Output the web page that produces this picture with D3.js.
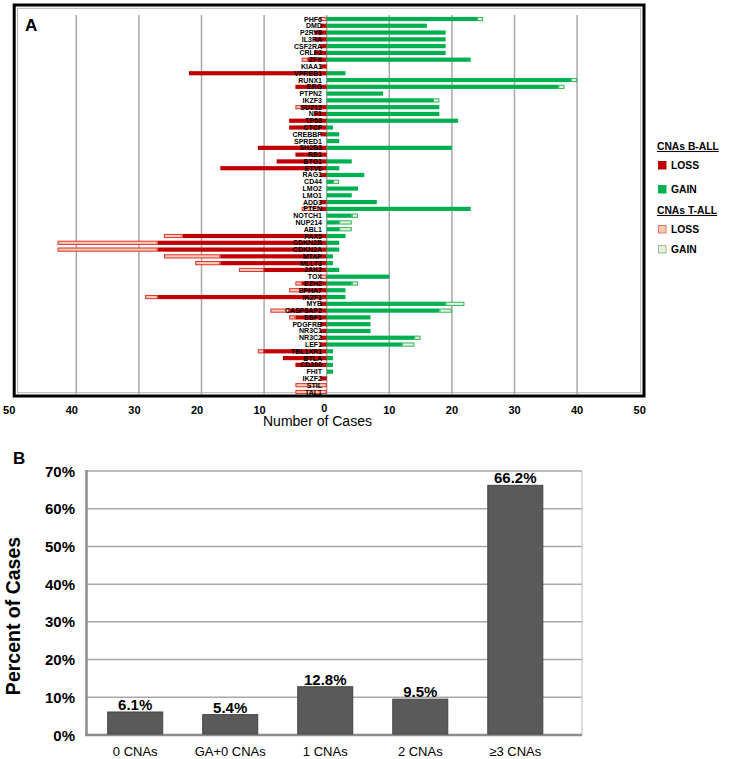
<!DOCTYPE html>
<html><head><meta charset="utf-8">
<script src="https://cdn.jsdelivr.net/npm/d3@7"></script>
<style>body{margin:0;background:#fff} svg{display:block} text{font-family:Arial,"Liberation Sans",sans-serif}</style>
</head><body><svg id="c" width="731" height="759"></svg>
<script>
// ---------- Panel A data ----------
const genes = ["PHF6","DMD","P2RY8","IL3RA","CSF2RA","CRLF2","ZFX","KIAA1","VPREB1","RUNX1","ERG","PTPN2","IKZF3","SUZ12","NF1","TP53","CTCF","CREBBP","SPRED1","SH2B3","RB1","BTG1","ETV6","RAG1","CD44","LMO2","LMO1","ADD3","PTEN","NOTCH1","NUP214","ABL1","PAX5","CDKN2B","CDKN2A","MTAP","MLLT3","JAK2","TOX","EZH2","EPHA7","IKZF1","MYB","CASP8AP2","EBF1","PDGFRB","NR3C1","NR3C2","LEF1","TBL1XR1","BTLA","CD200","FHIT","IKZF2","STIL","TAL1"];
const lossB = [0,1,2,2,1,2,3,1,22,0,5,0,0,4,2,6,6,1,0,11,5,8,17,1,0,0,0,1,1,0,0,0,23,27,27,17,17,10,0,4,4,27,1,6,5,1,1,1,1,10,7,5,0,1,0,0];
const lossT = [1,0,0,0,0,0,1,0,0,0,0,0,0,1,0,0,0,0,0,0,0,0,0,0,0,0,0,0,3,0,0,0,3,16,16,9,4,4,1,1,2,2,0,3,1,0,0,0,0,1,0,0,0,0,5,5];
const gainB = [24,16,19,19,19,19,23,0,3,39,37,9,17,18,18,21,1,2,2,20,0,4,2,6,1,5,4,8,23,4,2,2,3,2,2,1,1,2,10,4,3,3,19,18,7,7,7,14,12,1,1,1,1,0,0,0];
const gainT = [1,0,0,0,0,0,0,0,0,1,1,0,1,0,0,0,0,0,0,0,0,0,0,0,1,0,0,0,0,1,2,2,0,0,0,0,0,0,0,1,0,0,3,2,0,0,0,1,2,0,0,0,0,0,0,0];
const xTicks = [-50,-40,-30,-20,-10,0,10,20,30,40,50];
const gridVals = [-40,-30,-20,-10,0,10,20,30,40];

// ---------- Panel B data ----------
const cnaCats = ["0 CNAs","GA+0 CNAs","1 CNAs","2 CNAs","\u22653 CNAs"];
const cnaPct = [6.1,5.4,12.8,9.5,66.2];
const pctTicks = [0,10,20,30,40,50,60,70];

const C = {lossB:"#C00000", gainB:"#00B050", lossTf:"#F8CBAD", lossTs:"#D83030", gainTf:"#E8F3E0", gainTs:"#2DB35A"};

const svg = d3.select("#c");

// ===== Panel A =====
const x = d3.scaleLinear().domain([-50,50]).range([13.7,639.7]);
const y = d3.scalePoint().domain(genes).range([19,392]);
const bh = 4.2;

const gA = svg.append("g");
gA.append("rect").attr("x",14.2).attr("y",5).attr("width",629.8).attr("height",391)
  .attr("fill","none").attr("stroke","#000").attr("stroke-width",3);
gA.append("rect").attr("x",17.5).attr("y",8.3).attr("width",623.2).attr("height",384.4)
  .attr("fill","none").attr("stroke","#b5b5b5").attr("stroke-width",1);
gA.selectAll("line.grid").data(gridVals).join("line").attr("class","grid")
  .attr("x1",d=>x(d)).attr("x2",d=>x(d)).attr("y1",15).attr("y2",394)
  .attr("stroke","#a8a8a8").attr("stroke-width",1.5);

const rows = genes.map((g,i)=>({g, lb:lossB[i], lt:lossT[i], gb:gainB[i], gt:gainT[i]}));
gA.selectAll("rect.lb").data(rows.filter(r=>r.lb>0)).join("rect").attr("class","lb")
  .attr("x",d=>x(-d.lb)).attr("width",d=>x(0)-x(-d.lb)).attr("y",d=>y(d.g)-bh/2).attr("height",bh)
  .attr("fill",C.lossB);
gA.selectAll("rect.lt").data(rows.filter(r=>r.lt>0)).join("rect").attr("class","lt")
  .attr("x",d=>x(-(d.lb+d.lt))+0.5).attr("width",d=>x(-d.lb)-x(-(d.lb+d.lt))-1).attr("y",d=>y(d.g)-bh/2+0.5).attr("height",bh-1)
  .attr("fill",C.lossTf).attr("stroke",C.lossTs).attr("stroke-width",1);
gA.selectAll("rect.gb").data(rows.filter(r=>r.gb>0)).join("rect").attr("class","gb")
  .attr("x",x(0)).attr("width",d=>x(d.gb)-x(0)).attr("y",d=>y(d.g)-bh/2).attr("height",bh)
  .attr("fill",C.gainB);
gA.selectAll("rect.gt").data(rows.filter(r=>r.gt>0)).join("rect").attr("class","gt")
  .attr("x",d=>x(d.gb)+0.5).attr("width",d=>x(d.gb+d.gt)-x(d.gb)-1).attr("y",d=>y(d.g)-bh/2+0.5).attr("height",bh-1)
  .attr("fill",C.gainTf).attr("stroke",C.gainTs).attr("stroke-width",1);
gA.selectAll("text.gene").data(genes).join("text").attr("class","gene")
  .attr("x",322).attr("y",d=>y(d)+2.5).attr("text-anchor","end")
  .attr("font-size",7).attr("font-weight","bold").attr("fill","#000").text(d=>d);
gA.selectAll("text.xt").data(xTicks).join("text").attr("class","xt")
  .attr("x",d=>d<0?x(d)-4.5:(d===0?x(d)-2.5:x(d)))
  .attr("y",d=>d===0?412:414).attr("text-anchor","middle")
  .attr("font-size",11).attr("font-weight","bold").text(d=>Math.abs(d));
gA.append("text").attr("x",263).attr("y",426).attr("font-size",14).text("Number of Cases");
gA.append("text").attr("x",25).attr("y",31).attr("font-size",17).attr("font-weight","bold").text("A");

// legend
const lg = svg.append("g");
const lgItems = [
  {t:"CNAs B-ALL", head:true, y:150},
  {t:"LOSS", y:169, f:C.lossB, s:C.lossB},
  {t:"GAIN", y:193, f:C.gainB, s:C.gainB},
  {t:"CNAs T-ALL", head:true, y:214},
  {t:"LOSS", y:233, f:C.lossTf, s:"#E07070"},
  {t:"GAIN", y:253, f:"#E2EFDA", s:"#9DBF8A"}
];
lgItems.forEach(it=>{
  if(it.head){
    lg.append("text").attr("x",657).attr("y",it.y).attr("font-size",10.3).attr("font-weight","bold")
      .attr("text-decoration","underline").text(it.t);
  } else {
    lg.append("rect").attr("x",658.5).attr("y",it.y-7.5).attr("width",7.5).attr("height",7.5)
      .attr("fill",it.f).attr("stroke",it.s).attr("stroke-width",1);
    lg.append("text").attr("x",671).attr("y",it.y).attr("font-size",10.3).attr("font-weight","bold").text(it.t);
  }
});

// ===== Panel B =====
const gB = svg.append("g");
const xb = d3.scaleBand().domain(cnaCats).range([86.5,564]).paddingInner(0.421).paddingOuter(0.223);
const yb = d3.scaleLinear().domain([0,70]).range([735,471]);
gB.selectAll("line.bg").data(pctTicks.filter(d=>d>0)).join("line").attr("class","bg")
  .attr("x1",86.5).attr("x2",582).attr("y1",d=>yb(d)).attr("y2",d=>yb(d))
  .attr("stroke","#a8a8a8").attr("stroke-width",1.5);
gB.append("line").attr("x1",582).attr("x2",582).attr("y1",yb(70)).attr("y2",yb(0)).attr("stroke","#bdbdbd").attr("stroke-width",1);
gB.append("line").attr("x1",86.5).attr("x2",86.5).attr("y1",yb(70)-1).attr("y2",yb(0)+1).attr("stroke","#8c8c8c").attr("stroke-width",2.5);
gB.append("line").attr("x1",85).attr("x2",582).attr("y1",yb(0)).attr("y2",yb(0)).attr("stroke","#8c8c8c").attr("stroke-width",2.5);
gB.selectAll("rect.bar").data(cnaCats).join("rect").attr("class","bar")
  .attr("x",d=>xb(d)).attr("width",xb.bandwidth())
  .attr("y",(d,i)=>yb(cnaPct[i])).attr("height",(d,i)=>yb(0)-yb(cnaPct[i])-1)
  .attr("fill","#5a5a5a").attr("stroke","#444").attr("stroke-width",1);
gB.selectAll("text.val").data(cnaCats).join("text").attr("class","val")
  .attr("x",d=>xb(d)+xb.bandwidth()/2).attr("y",(d,i)=>yb(cnaPct[i])-2)
  .attr("text-anchor","middle").attr("font-size",15).attr("font-weight","bold")
  .text((d,i)=>cnaPct[i].toFixed(1)+"%");
gB.selectAll("text.cat").data(cnaCats).join("text").attr("class","cat")
  .attr("x",d=>xb(d)+xb.bandwidth()/2).attr("y",756).attr("text-anchor","middle")
  .attr("font-size",13).text(d=>d);
gB.selectAll("text.yt").data(pctTicks).join("text").attr("class","yt")
  .attr("x",75).attr("y",d=>yb(d)+5.5).attr("text-anchor","end")
  .attr("font-size",15).attr("font-weight","bold").text(d=>d+"%");
gB.append("text").attr("transform","translate(20,616) rotate(-90)").attr("text-anchor","middle")
  .attr("font-size",19.5).attr("font-weight","bold").text("Percent of Cases");
gB.append("text").attr("x",13).attr("y",464).attr("font-size",17).attr("font-weight","bold").text("B");
</script></body></html>
